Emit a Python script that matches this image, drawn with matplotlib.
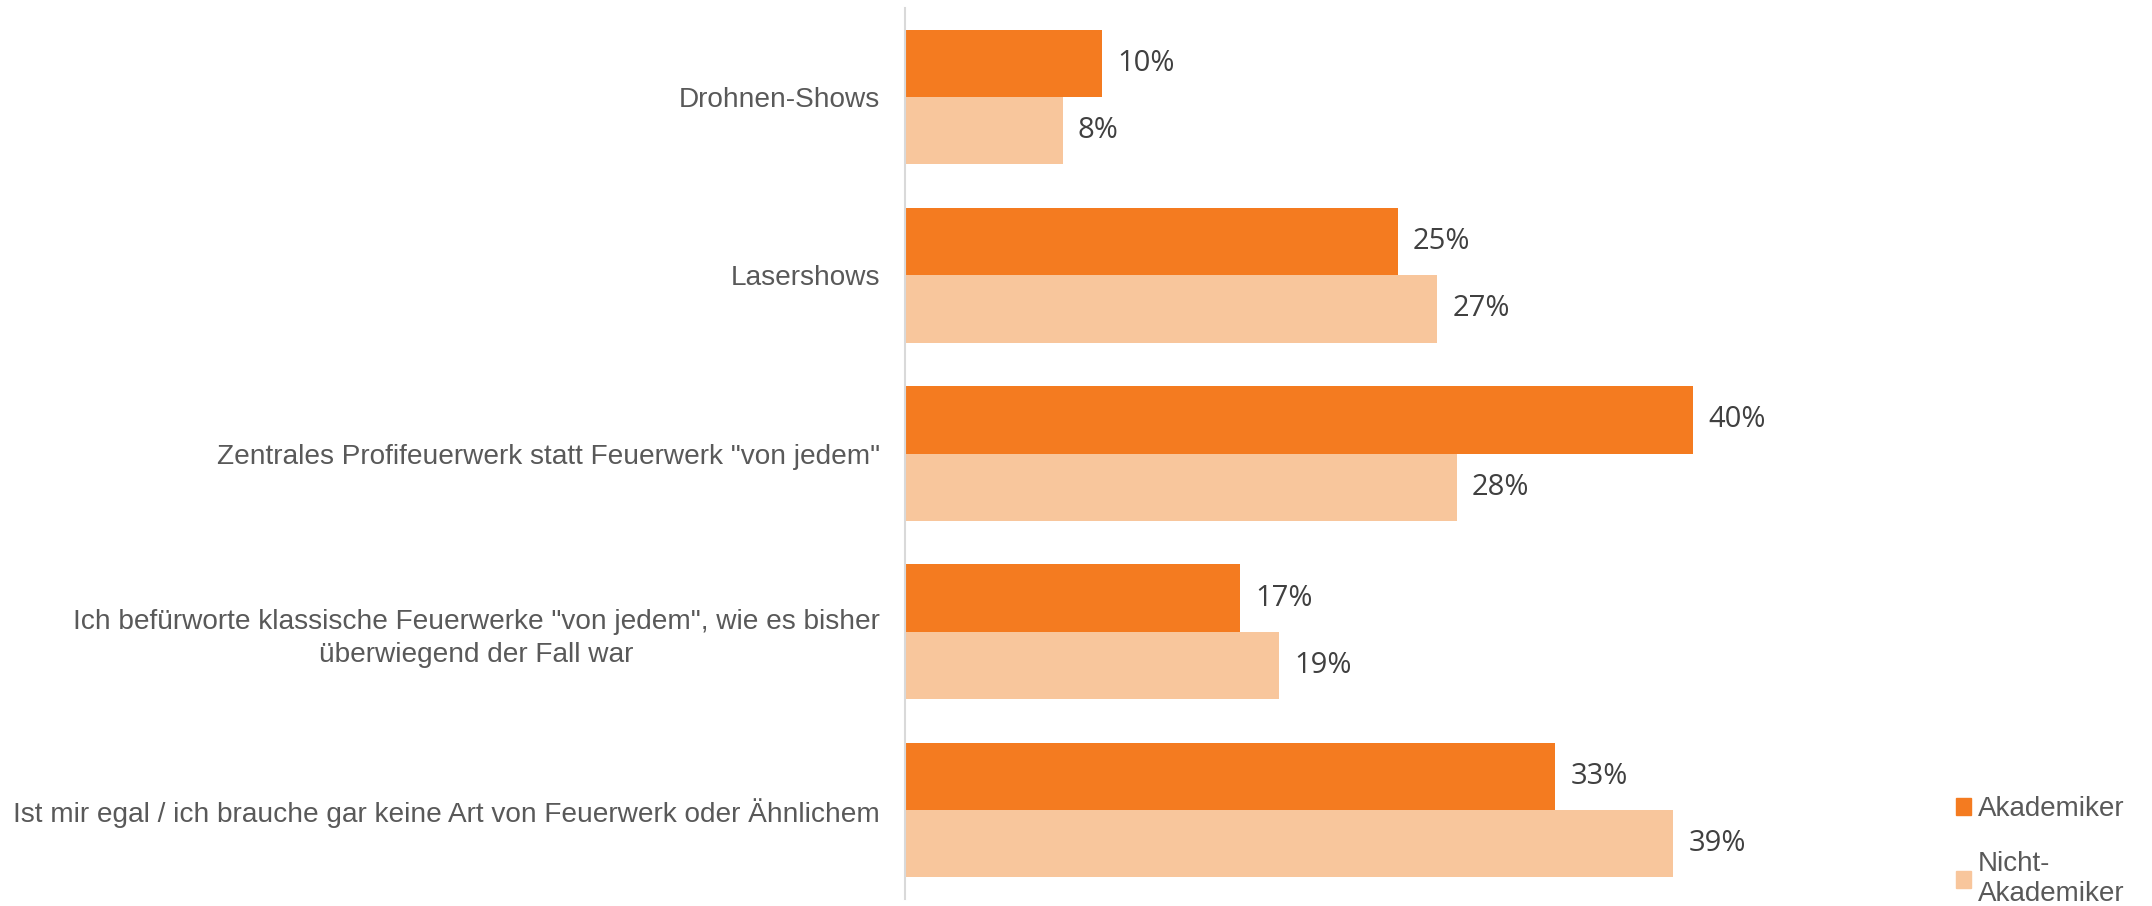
import matplotlib
matplotlib.use("Agg")
import matplotlib.pyplot as plt
from matplotlib.patches import Patch

categories = [
    "Drohnen-Shows",
    "Lasershows",
    "Zentrales Profifeuerwerk statt Feuerwerk \"von jedem\"",
    "Ich befürworte klassische Feuerwerke \"von jedem\", wie es bisher\nüberwiegend der Fall war",
    "Ist mir egal / ich brauche gar keine Art von Feuerwerk oder Ähnlichem",
]
akademiker = [10, 25, 40, 17, 33]
nicht_akademiker = [8, 27, 28, 19, 39]
series_names = ["Akademiker", "Nicht-\nAkademiker"]

c_dark = "#F47B20"
c_light = "#F8C69C"

W, H = 2152, 906
fig = plt.figure(figsize=(W / 100, H / 100), dpi=100)
ax_left, ax_right = 905, 1890
ax_top, ax_bottom = 8, 899
ax = fig.add_axes([ax_left / W, 1 - ax_bottom / H, (ax_right - ax_left) / W, (ax_bottom - ax_top) / H])

bh = 0.378
y = list(range(len(categories)))
b1 = ax.barh([i - bh / 2 for i in y], akademiker, height=bh, color=c_dark, label=series_names[0])
b2 = ax.barh([i + bh / 2 for i in y], nicht_akademiker, height=bh, color=c_light, label=series_names[1])

ax.set_xlim(0, 50)
ax.set_ylim(len(categories) - 0.5, -0.5)

for bars, vals in ((b1, akademiker), (b2, nicht_akademiker)):
    for rect, v in zip(bars, vals):
        ax.annotate(f"{v}%", xy=(v, rect.get_y() + rect.get_height() / 2),
                    xytext=(11, 0), textcoords="offset points",
                    ha="left", va="center", fontsize=21, color="#404040",
                    family="Open Sans")

ax.set_yticks(y)
ax.set_yticklabels(categories, fontsize=20.2, color="#595959", family="Liberation Sans",
                   multialignment="center", linespacing=1.35)
ax.tick_params(axis="y", length=0, pad=18)
ax.set_xticks([])
for s in ("top", "right", "bottom"):
    ax.spines[s].set_visible(False)
ax.spines["left"].set_color("#D9D9D9")
ax.spines["left"].set_linewidth(1.5)

handles = [Patch(color=c_dark), Patch(color=c_light)]
leg = fig.legend(handles, series_names, loc="upper left",
                 bbox_to_anchor=(1956 / W, 1 - 796 / H), frameon=False,
                 prop={"family": "Liberation Sans", "size": 20},
                 handlelength=0.55, handleheight=0.55, handletextpad=0.25,
                 labelspacing=1.05, borderaxespad=0, borderpad=0)
for t in leg.get_texts():
    t.set_color("#595959")

fig.savefig("out.png", dpi=100)
